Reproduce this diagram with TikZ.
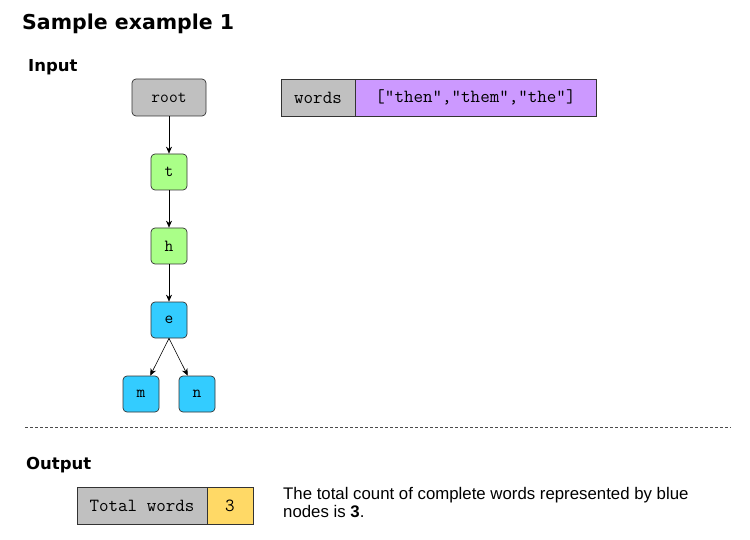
\documentclass[tikz,border=0pt]{standalone}
\usepackage{fontspec}
\setmainfont{DejaVu Sans}
\newfontfamily\descfont{Liberation Sans}
\usetikzlibrary{arrows.meta}
\definecolor{gbox}{HTML}{C0C0C0}
\definecolor{gnode}{HTML}{AAFF88}
\definecolor{bnode}{HTML}{33CCFF}
\definecolor{pbox}{HTML}{CC99FF}
\definecolor{ybox}{HTML}{FFD966}
\definecolor{edge}{HTML}{333333}
\tikzset{
  tnode/.style={draw=edge, rounded corners=4pt, minimum width=36pt, minimum height=36pt, inner sep=0pt, font=\ttfamily\fontsize{17}{19}\selectfont, line width=0.7pt},
  cell/.style={draw=edge, minimum height=37pt, inner sep=0pt, font=\ttfamily\fontsize{18.5}{20}\selectfont, line width=0.7pt},
  conn/.style={-{Stealth[length=7pt,width=6pt]}, draw=black, line width=0.6pt},
}
\begin{document}
\begin{tikzpicture}[x=1pt,y=-1pt]
\useasboundingbox (0,0) rectangle (750,540);
\node[anchor=west, inner sep=0pt, font=\bfseries\fontsize{20.5}{24}\selectfont] (title) at (22,24) {Sample example 1};
\node[anchor=west, inner sep=0pt, font=\bfseries\fontsize{16.5}{20}\selectfont] (input) at (28,67) {Input};
\node[tnode, fill=gbox, minimum width=74pt, minimum height=37pt] (root) at (169,97.5) {root};
\node[tnode, fill=gnode] (t) at (169,172) {t};
\node[tnode, fill=gnode] (h) at (169,246) {h};
\node[tnode, fill=bnode] (e) at (169,320) {e};
\node[tnode, fill=bnode] (m) at (141,394) {m};
\node[tnode, fill=bnode] (n) at (197,394) {n};
\draw[conn] (root) -- (t);
\draw[conn] (t) -- (h);
\draw[conn] (h) -- (e);
\draw[conn] (e.south) -- (m);
\draw[conn] (e.south) -- (n);
\node[cell, fill=gbox, minimum width=74pt] (wl) at (318,97.5) {words};
\node[cell, fill=pbox, minimum width=241pt] (wv) at (475.5,97.5) {["then","them","the"]};
\coordinate (dl) at (25,427);
\coordinate (dr) at (731,427);
\draw[dash pattern=on 3pt off 2pt, draw=black!70, line width=0.6pt] (dl) -- (dr);
\node[anchor=west, inner sep=0pt, font=\bfseries\fontsize{16.5}{20}\selectfont] (output) at (26,465) {Output};
\node[cell, fill=gbox, minimum width=130pt] (tl) at (142,505.5) {Total words};
\node[cell, fill=ybox, minimum width=46pt] (tv) at (230,505.5) {3};
\node[anchor=north west, align=left, inner sep=0pt, font=\descfont\fontsize{16.8}{18}\selectfont] (desc) at (283,487) {The total count of complete words represented by blue\\nodes is \textbf{3}.};
\end{tikzpicture}
\end{document}
